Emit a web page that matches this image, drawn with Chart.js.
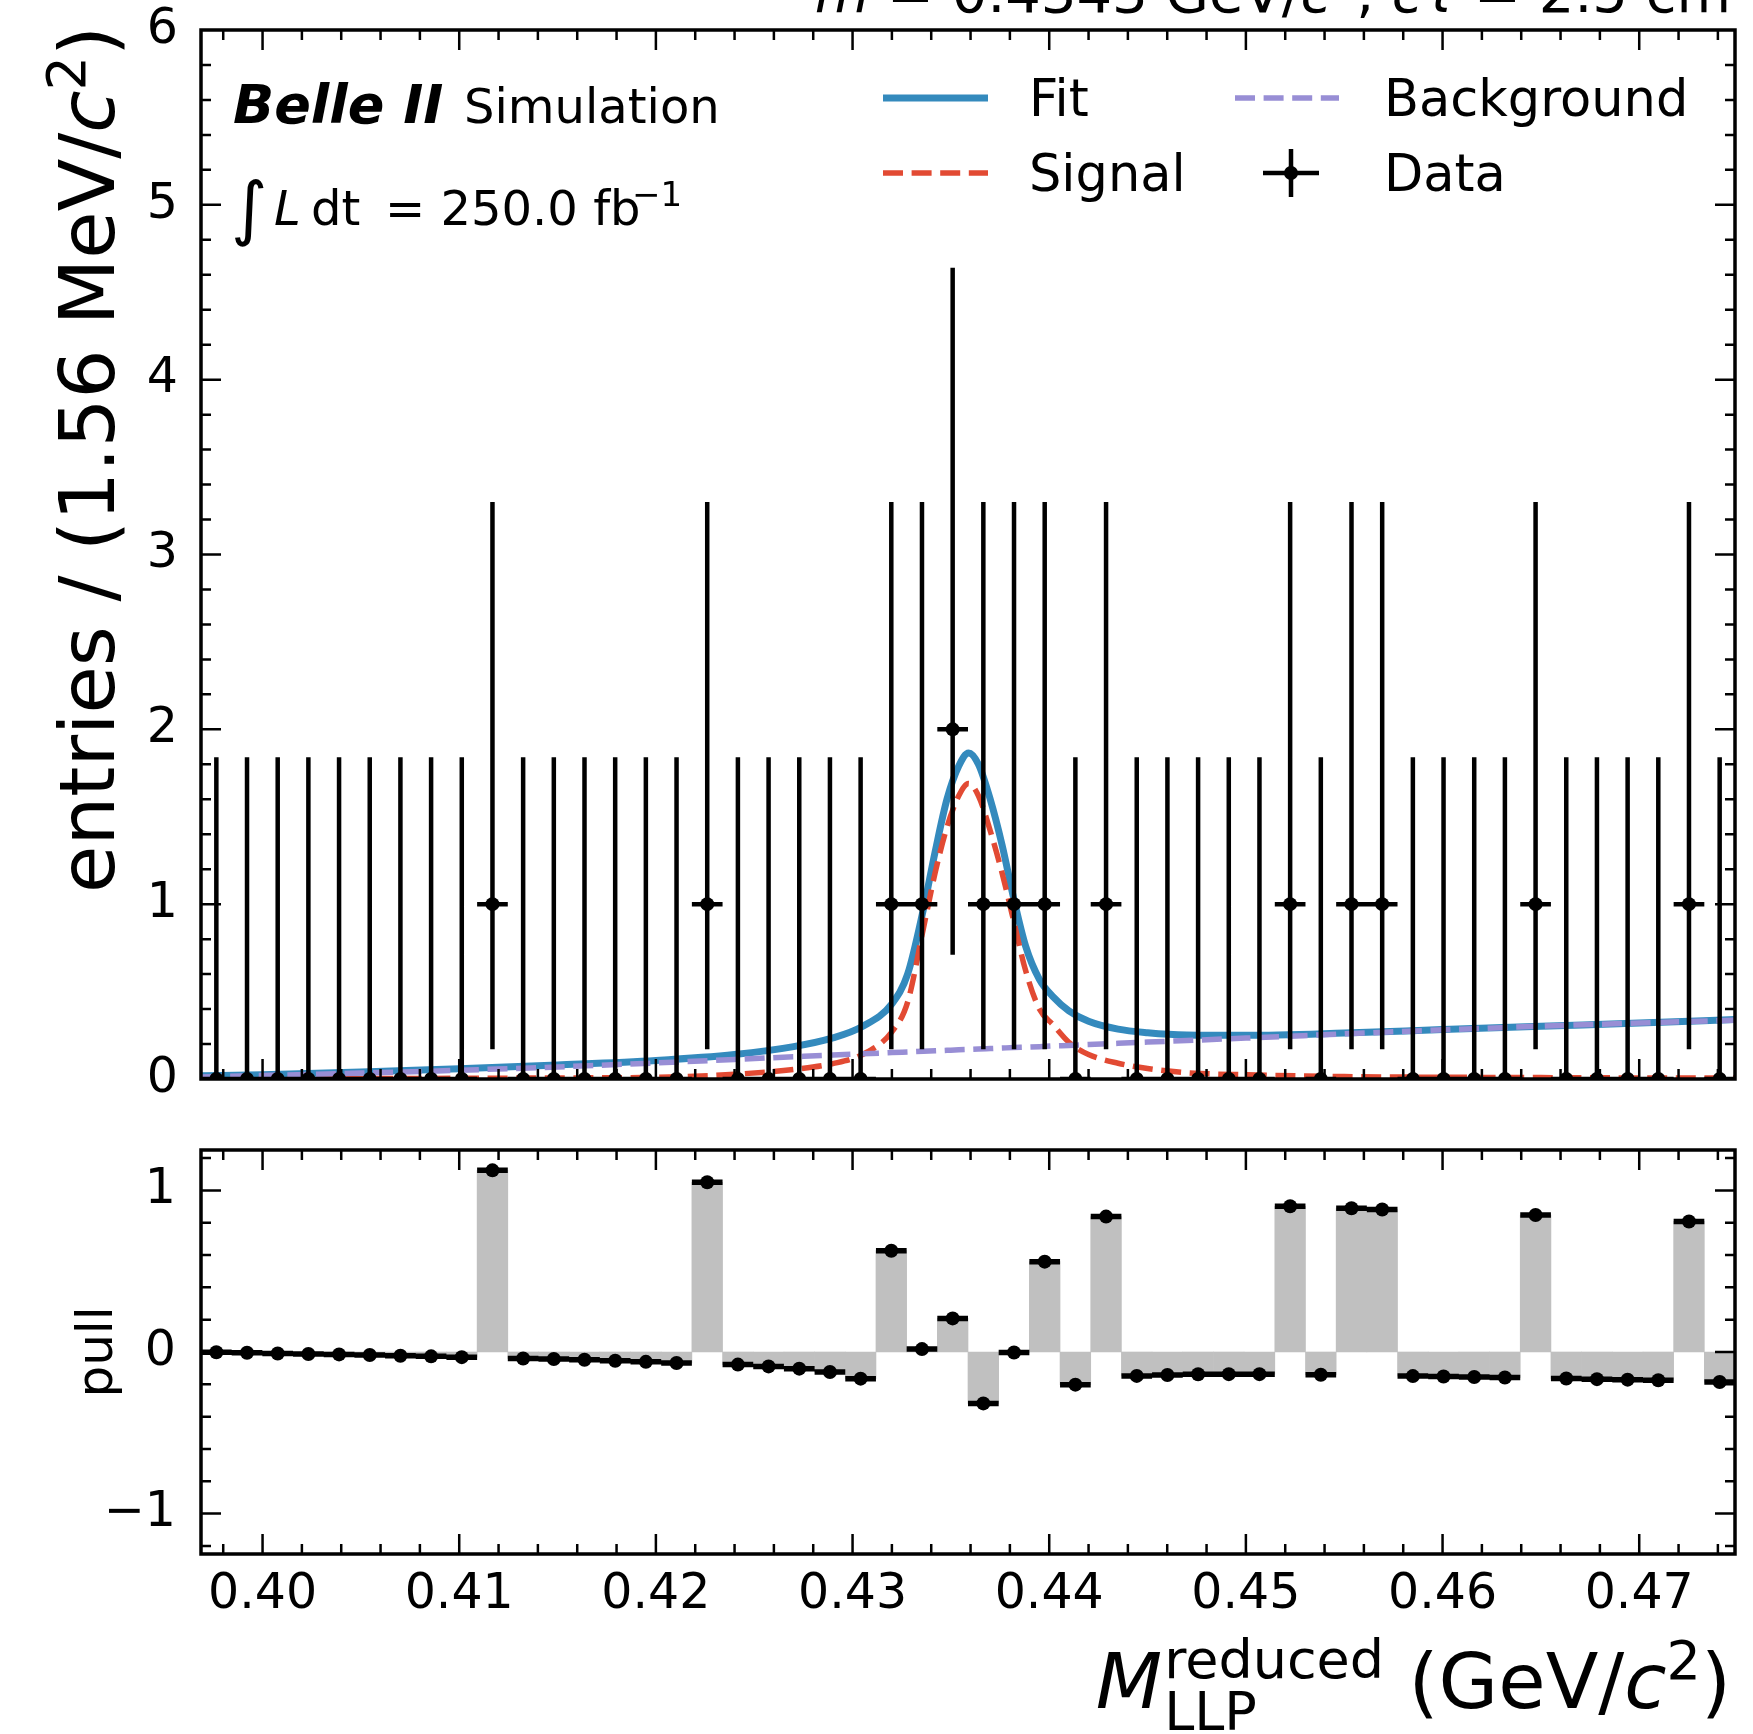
<!DOCTYPE html>
<html>
<head>
<meta charset="utf-8">
<script src="https://cdn.jsdelivr.net/npm/chart.js@4.4.1/dist/chart.umd.min.js"></script>
<style>
  body { margin: 0; background: #fff; }
  #wrap { position: relative; width: 1753px; height: 1734px; overflow: hidden; background: #fff; }
  canvas { position: absolute; left: 0; }
  #top { top: 0; }
  #pull { top: 1100px; }
</style>
</head>
<body>
<div id="wrap">
  <canvas id="top" width="1753" height="1100"></canvas>
  <canvas id="pull" width="1753" height="634"></canvas>
</div>
<script>
// histogram range and bins (1.56 MeV/c^2 bins)
const xMin = 0.39687;
const xMax = 0.47487;
const binWidth = 0.00156;
const binCenters = [
  0.39765, 0.39921, 0.40077, 0.40233, 0.40389, 0.40545, 0.40701, 0.40857, 0.41013, 0.41169,
  0.41325, 0.41481, 0.41637, 0.41793, 0.41949, 0.42105, 0.42261, 0.42417, 0.42573, 0.42729,
  0.42885, 0.43041, 0.43197, 0.43353, 0.43509, 0.43665, 0.43821, 0.43977, 0.44133, 0.44289,
  0.44445, 0.44601, 0.44757, 0.44913, 0.45069, 0.45225, 0.45381, 0.45537, 0.45693, 0.45849,
  0.46005, 0.46161, 0.46317, 0.46473, 0.46629, 0.46785, 0.46941, 0.47097, 0.47253, 0.47409
];
const counts = [
  0, 0, 0, 0, 0, 0, 0, 0, 0, 1,
  0, 0, 0, 0, 0, 0, 1, 0, 0, 0,
  0, 0, 1, 1, 2, 1, 1, 1, 0, 1,
  0, 0, 0, 0, 0, 1, 0, 1, 1, 0,
  0, 0, 0, 1, 0, 0, 0, 0, 1, 0
];
const errLow = [
  0, 0, 0, 0, 0, 0, 0, 0, 0, 0.83,
  0, 0, 0, 0, 0, 0, 0.83, 0, 0, 0,
  0, 0, 0.83, 0.83, 1.29, 0.83, 0.83, 0.83, 0, 0.83,
  0, 0, 0, 0, 0, 0.83, 0, 0.83, 0.83, 0,
  0, 0, 0, 0.83, 0, 0, 0, 0, 0.83, 0
];
const errHigh = [
  1.84, 1.84, 1.84, 1.84, 1.84, 1.84, 1.84, 1.84, 1.84, 2.30,
  1.84, 1.84, 1.84, 1.84, 1.84, 1.84, 2.30, 1.84, 1.84, 1.84,
  1.84, 1.84, 2.30, 2.30, 2.64, 2.30, 2.30, 2.30, 1.84, 2.30,
  1.84, 1.84, 1.84, 1.84, 1.84, 2.30, 1.84, 2.30, 2.30, 1.84,
  1.84, 1.84, 1.84, 2.30, 1.84, 1.84, 1.84, 1.84, 2.30, 1.84
];
const pulls = [
  -0.002, -0.005, -0.009, -0.012, -0.015, -0.019, -0.023, -0.027, -0.032, 1.124,
  -0.040, -0.043, -0.048, -0.054, -0.061, -0.068, 1.050, -0.078, -0.089, -0.103,
  -0.124, -0.165, 0.627, 0.018, 0.208, -0.318, -0.003, 0.559, -0.202, 0.838,
  -0.148, -0.142, -0.138, -0.137, -0.137, 0.902, -0.141, 0.890, 0.882, -0.149,
  -0.152, -0.155, -0.158, 0.848, -0.164, -0.168, -0.171, -0.175, 0.808, -0.186
];

// fit curves
const curveX = [
  0.3969, 0.4000, 0.4050, 0.4100, 0.4150, 0.4200, 0.4240, 0.4270, 0.4290, 0.4305,
  0.4320, 0.4328, 0.4336, 0.4342, 0.4348, 0.4354, 0.4359, 0.4364, 0.4370, 0.4376,
  0.4382, 0.4388, 0.4395, 0.4402, 0.4410, 0.4420, 0.4435, 0.4450, 0.4470, 0.4500,
  0.4550, 0.4600, 0.4650, 0.4700, 0.4749
];
const fitY = [
  0.018, 0.025, 0.040, 0.058, 0.080, 0.106, 0.140, 0.185, 0.235, 0.300,
  0.430, 0.600, 0.970, 1.300, 1.600, 1.790, 1.865, 1.800, 1.600, 1.340,
  1.030, 0.760, 0.570, 0.470, 0.390, 0.330, 0.285, 0.265, 0.252, 0.250,
  0.263, 0.283, 0.302, 0.320, 0.340
];
const signalY = [
  0.000, 0.001, 0.002, 0.004, 0.006, 0.010, 0.027, 0.055, 0.088, 0.140,
  0.270, 0.440, 0.860, 1.180, 1.440, 1.620, 1.690, 1.620, 1.420, 1.180,
  0.900, 0.620, 0.400, 0.310, 0.210, 0.140, 0.090, 0.060, 0.036, 0.024,
  0.014, 0.010, 0.008, 0.006, 0.005
];
const bkgY = [
  0.012, 0.020, 0.034, 0.050, 0.069, 0.092, 0.112, 0.127, 0.137, 0.144,
  0.151, 0.155, 0.159, 0.161, 0.164, 0.167, 0.169, 0.171, 0.174, 0.177,
  0.180, 0.182, 0.185, 0.189, 0.192, 0.197, 0.204, 0.211, 0.220, 0.234,
  0.258, 0.281, 0.302, 0.320, 0.337
];

const xTicks = [0.40, 0.41, 0.42, 0.43, 0.44, 0.45, 0.46, 0.47];
const yTicksTop = [0, 1, 2, 3, 4, 5, 6];
const yTicksPull = [-1, 0, 1];

const FONT = 'DejaVu Sans';
const blue = '#348ABD';
const red = '#E24A33';
const purple = '#988ED5';
const dashSig = [20, 8.6];
const dashBkg = [20, 8.6];

function pts(xs, ys) {
  return xs.map((x, i) => ({ x: x, y: ys[i] }));
}

// text with mixed fonts, sub/superscripts
function drawRich(ctx, parts, x, y, align) {
  let w = 0;
  parts.forEach(p => {
    ctx.font = p.font;
    p.w = p.stack ? Math.max(ctx.measureText(p.sup).width, ctx.measureText(p.sub).width)
                  : ctx.measureText(p.t).width;
    w += p.w + (p.dx || 0);
  });
  let cx = align === 'right' ? x - w : x;
  parts.forEach(p => {
    ctx.font = p.font;
    cx += (p.dx || 0);
    if (p.stack) {
      ctx.fillText(p.sup, cx, y + p.supDy);
      ctx.fillText(p.sub, cx, y + p.subDy);
    } else {
      ctx.fillText(p.t, cx, y + (p.dy || 0));
    }
    cx += p.w;
  });
}

function minorList(min, max, step) {
  const out = [];
  for (let k = Math.ceil(min / step - 1e-6); k * step <= max + 1e-9; k++) out.push(k * step);
  return out;
}

// frame and inward ticks on all four sides
function drawFrame(chart, majY) {
  const { ctx, chartArea: a, scales: { x, y } } = chart;
  const minX = minorList(x.min, x.max, 0.002);
  const minY = minorList(y.min, y.max, 0.2);
  ctx.save();
  ctx.strokeStyle = '#000';
  ctx.lineWidth = 2.5;
  ctx.beginPath();
  const tickX = (v, len) => {
    const px = x.getPixelForValue(v);
    if (px < a.left + 1 || px > a.right - 1) return;
    ctx.moveTo(px, a.bottom); ctx.lineTo(px, a.bottom - len);
    ctx.moveTo(px, a.top); ctx.lineTo(px, a.top + len);
  };
  const tickY = (v, len) => {
    const py = y.getPixelForValue(v);
    if (py < a.top + 1 || py > a.bottom - 1) return;
    ctx.moveTo(a.left, py); ctx.lineTo(a.left + len, py);
    ctx.moveTo(a.right, py); ctx.lineTo(a.right - len, py);
  };
  minX.forEach(v => tickX(v, 10));
  xTicks.forEach(v => tickX(v, 20));
  minY.forEach(v => tickY(v, 10));
  majY.forEach(v => tickY(v, 20));
  ctx.stroke();
  ctx.lineWidth = 3.5;
  ctx.strokeRect(a.left, a.top, a.right - a.left, a.bottom - a.top);
  ctx.restore();
}

function fixAxis(width) {
  return s => {
    if (width !== null) s.width = width;
    s.paddingTop = 0; s.paddingBottom = 0; s.paddingLeft = 0; s.paddingRight = 0;
  };
}

const topDecor = {
  id: 'topDecor',
  afterDatasetsDraw(chart) {
    const { ctx, chartArea: a, scales: { x, y } } = chart;
    // error bars on data
    ctx.save();
    ctx.beginPath();
    ctx.rect(a.left, a.top, a.right - a.left, a.bottom - a.top);
    ctx.clip();
    ctx.strokeStyle = '#000';
    ctx.lineWidth = 4.5;
    ctx.beginPath();
    binCenters.forEach((c, i) => {
      const px = x.getPixelForValue(c);
      ctx.moveTo(px, y.getPixelForValue(counts[i] - errLow[i]));
      ctx.lineTo(px, y.getPixelForValue(counts[i] + errHigh[i]));
      const py = y.getPixelForValue(counts[i]);
      ctx.moveTo(x.getPixelForValue(c - binWidth / 2), py);
      ctx.lineTo(x.getPixelForValue(c + binWidth / 2), py);
    });
    ctx.stroke();
    ctx.restore();
  },
  afterDraw(chart) {
    const { ctx } = chart;
    drawFrame(chart, yTicksTop);
    ctx.save();
    ctx.fillStyle = '#000';
    ctx.textBaseline = 'alphabetic';

    // title, mostly cut off by the top edge
    const T = 56;
    drawRich(ctx, [
      { t: 'm', font: `italic ${T}px ${FONT}` },
      { t: ' = 0.4343 GeV/', font: `${T}px ${FONT}` },
      { t: 'c', font: `italic ${T}px ${FONT}` },
      { t: '2', font: `${Math.round(T * 0.7)}px ${FONT}`, dy: -T * 0.38 },
      { t: ', ', font: `${T}px ${FONT}` },
      { t: 'c\u03c4', font: `italic ${T}px ${FONT}` },
      { t: ' = 2.5 cm', font: `${T}px ${FONT}` }
    ], 1731, 12, 'right');

    // Belle II label
    ctx.font = `italic bold 54px ${FONT}`;
    ctx.fillText('Belle II', 233, 123);
    ctx.font = `48px ${FONT}`;
    ctx.fillText('Simulation', 464, 123);

    ctx.font = `70px ${FONT}`;
    ctx.fillText('\u222b', 231, 232);
    ctx.font = `italic 48px ${FONT}`;
    ctx.fillText('L', 274, 225);
    ctx.font = `48px ${FONT}`;
    ctx.fillText('dt', 311, 225);
    ctx.fillText('= 250.0 fb', 385, 225);
    ctx.font = `34px ${FONT}`;
    ctx.fillText('\u22121', 632, 206);

    // legend
    const rows = [98, 173];
    ctx.lineCap = 'butt';
    ctx.lineWidth = 7;
    ctx.strokeStyle = blue;
    ctx.beginPath(); ctx.moveTo(883, rows[0]); ctx.lineTo(988, rows[0]); ctx.stroke();
    ctx.lineWidth = 5.5;
    ctx.setLineDash(dashSig);
    ctx.strokeStyle = red;
    ctx.beginPath(); ctx.moveTo(883, rows[1]); ctx.lineTo(988, rows[1]); ctx.stroke();
    ctx.setLineDash(dashBkg);
    ctx.strokeStyle = purple;
    ctx.beginPath(); ctx.moveTo(1235, rows[0]); ctx.lineTo(1339, rows[0]); ctx.stroke();
    ctx.setLineDash([]);
    ctx.strokeStyle = '#000';
    ctx.lineWidth = 4.5;
    ctx.beginPath();
    ctx.moveTo(1291, rows[1] - 24); ctx.lineTo(1291, rows[1] + 24);
    ctx.moveTo(1263, rows[1]); ctx.lineTo(1319, rows[1]);
    ctx.stroke();
    ctx.beginPath(); ctx.arc(1291, rows[1], 7, 0, 2 * Math.PI); ctx.fill();

    ctx.font = `51px ${FONT}`;
    ctx.fillText('Fit', 1029, rows[0] + 18);
    ctx.fillText('Signal', 1029, rows[1] + 18);
    ctx.fillText('Background', 1384, rows[0] + 18);
    ctx.fillText('Data', 1384, rows[1] + 18);

    // y axis title, aligned to top
    ctx.translate(114, 26);
    ctx.rotate(-Math.PI / 2);
    const S = 77;
    drawRich(ctx, [
      { t: 'entries / (1.56 MeV/', font: `${S}px ${FONT}` },
      { t: 'c', font: `italic ${S}px ${FONT}` },
      { t: '2', font: `${Math.round(S * 0.7)}px ${FONT}`, dy: -S * 0.38 },
      { t: ')', font: `${S}px ${FONT}` }
    ], 0, 0, 'right');
    ctx.restore();
  }
};

const pullDecor = {
  id: 'pullDecor',
  afterDatasetsDraw(chart) {
    const { ctx, scales: { x, y } } = chart;
    ctx.save();
    ctx.strokeStyle = '#000';
    ctx.lineWidth = 5.5;
    ctx.beginPath();
    binCenters.forEach((c, i) => {
      const py = y.getPixelForValue(pulls[i]);
      ctx.moveTo(x.getPixelForValue(c - binWidth / 2), py);
      ctx.lineTo(x.getPixelForValue(c + binWidth / 2), py);
    });
    ctx.stroke();
    ctx.restore();
  },
  afterDraw(chart) {
    const { ctx, chartArea: a } = chart;
    drawFrame(chart, yTicksPull);
    ctx.save();
    ctx.fillStyle = '#000';
    // y title
    ctx.save();
    ctx.translate(112, (a.top + a.bottom) / 2);
    ctx.rotate(-Math.PI / 2);
    ctx.font = `50px ${FONT}`;
    ctx.textAlign = 'center';
    ctx.fillText('pull', 0, 0);
    ctx.restore();
    // x title, aligned right
    const S = 77, s = 54;
    drawRich(ctx, [
      { t: 'M', font: `italic ${S}px ${FONT}` },
      { stack: true, sup: 'reduced', sub: 'LLP', font: `${s}px ${FONT}`, supDy: -30, subDy: 22, dx: 2 },
      { t: ' (GeV/', font: `${S}px ${FONT}` },
      { t: 'c', font: `italic ${S}px ${FONT}` },
      { t: '2', font: `${Math.round(S * 0.7)}px ${FONT}`, dy: -29 },
      { t: ')', font: `${S}px ${FONT}` }
    ], 1731, 608, 'right');
    ctx.restore();
  }
};

const topChart = new Chart(document.getElementById('top'), {
  type: 'scatter',
  data: {
    datasets: [
      { type: 'line', label: 'Fit', data: pts(curveX, fitY), borderColor: blue, borderWidth: 7,
        pointRadius: 0, cubicInterpolationMode: 'monotone', fill: false, order: 3 },
      { type: 'line', label: 'Signal', data: pts(curveX, signalY), borderColor: red, borderWidth: 5.5,
        borderDash: dashSig, pointRadius: 0, cubicInterpolationMode: 'monotone', fill: false, order: 2 },
      { type: 'line', label: 'Background', data: pts(curveX, bkgY), borderColor: purple, borderWidth: 5.5,
        borderDash: dashBkg, pointRadius: 0, cubicInterpolationMode: 'monotone', fill: false, order: 1 },
      { type: 'scatter', label: 'Data', data: pts(binCenters, counts), pointRadius: 7,
        pointBackgroundColor: '#000', pointBorderWidth: 0, clip: 0, order: 0 }
    ]
  },
  options: {
    responsive: false,
    animation: false,
    devicePixelRatio: 1,
    layout: { padding: { left: 0, right: 18, top: 30, bottom: 0 } },
    plugins: { legend: { display: false }, tooltip: { enabled: false } },
    scales: {
      x: {
        type: 'linear', min: xMin, max: xMax,
        ticks: { display: false },
        grid: { display: false, drawTicks: false },
        border: { display: false },
        afterFit: s => { s.height = 21; s.paddingLeft = 0; s.paddingRight = 0; }
      },
      y: {
        type: 'linear', min: 0, max: 6,
        afterBuildTicks: s => { s.ticks = yTicksTop.map(v => ({ value: v })); },
        ticks: { font: { family: FONT, size: 49 }, color: '#000', padding: 23 },
        grid: { display: false, drawTicks: false },
        border: { display: false },
        afterFit: fixAxis(201)
      }
    }
  },
  plugins: [topDecor]
});

const pullChart = new Chart(document.getElementById('pull'), {
  type: 'scatter',
  data: {
    datasets: [
      { type: 'bar', label: 'pull', data: pts(binCenters, pulls), backgroundColor: '#c0c0c0',
        borderWidth: 0, barPercentage: 1, categoryPercentage: 1, order: 2 },
      { type: 'scatter', label: 'points', data: pts(binCenters, pulls), pointRadius: 7,
        pointBackgroundColor: '#000', pointBorderWidth: 0, order: 0 }
    ]
  },
  options: {
    responsive: false,
    animation: false,
    devicePixelRatio: 1,
    layout: { padding: { left: 0, right: 18, top: 50, bottom: 0 } },
    plugins: { legend: { display: false }, tooltip: { enabled: false } },
    scales: {
      x: {
        type: 'linear', min: xMin, max: xMax, offset: false,
        afterBuildTicks: s => { s.ticks = xTicks.map(v => ({ value: v })); },
        ticks: { font: { family: FONT, size: 49 }, color: '#000', padding: 12,
                 autoSkip: false, maxRotation: 0, callback: v => v.toFixed(2) },
        grid: { display: false, drawTicks: false },
        border: { display: false },
        afterFit: s => { s.height = 180; s.paddingLeft = 0; s.paddingRight = 0; }
      },
      y: {
        type: 'linear', min: -1.25, max: 1.25,
        afterBuildTicks: s => { s.ticks = yTicksPull.map(v => ({ value: v })); },
        ticks: { font: { family: FONT, size: 49 }, color: '#000', padding: 25,
                 callback: v => (v < 0 ? '\u2212' + Math.abs(v) : String(v)) },
        grid: { display: false, drawTicks: false },
        border: { display: false },
        afterFit: fixAxis(201)
      }
    }
  },
  plugins: [pullDecor]
});
</script>
</body>
</html>
